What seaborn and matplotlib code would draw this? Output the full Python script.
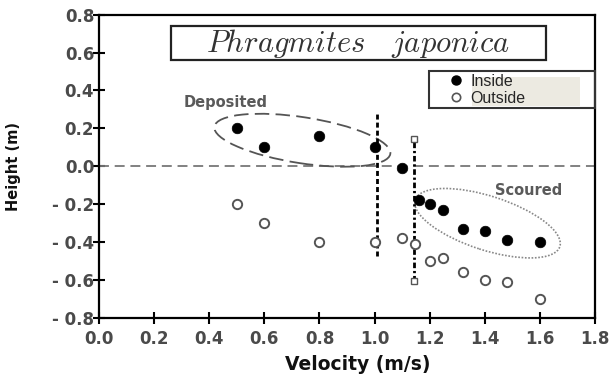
import numpy as np
import pandas as pd
import matplotlib
matplotlib.use("Agg")
import matplotlib.pyplot as plt
import seaborn as sns
from matplotlib.patches import Ellipse, Rectangle
from matplotlib.lines import Line2D
from matplotlib.legend_handler import HandlerLine2D
from matplotlib.transforms import IdentityTransform, ScaledTranslation

# ---- data ----
velocity = [0.50, 0.60, 0.80, 1.00, 1.10, 1.16, 1.20, 1.25, 1.32, 1.40, 1.48, 1.60]
inside_height = [0.20, 0.10, 0.16, 0.10, -0.01, -0.18, -0.20, -0.23, -0.33, -0.34, -0.39, -0.40]
outside_velocity = [0.50, 0.60, 0.80, 1.00, 1.10, 1.145, 1.20, 1.25, 1.32, 1.40, 1.48, 1.60]
outside_height = [-0.20, -0.30, -0.40, -0.40, -0.38, -0.41, -0.50, -0.485, -0.56, -0.60, -0.61, -0.70]

x_ticks = [0.0, 0.2, 0.4, 0.6, 0.8, 1.0, 1.2, 1.4, 1.6, 1.8]
x_tick_labels = ["0.0", "0.2", "0.4", "0.6", "0.8", "1.0", "1.2", "1.4", "1.6", "1.8"]
y_ticks = [-0.8, -0.6, -0.4, -0.2, 0.0, 0.2, 0.4, 0.6, 0.8]
y_tick_labels = ["- 0.8", "- 0.6", "- 0.4", "- 0.2", "0.0", "0.2", "0.4", "0.6", "0.8"]

# threshold lines (velocity, low, high)
threshold1 = (1.01, -0.474, 0.274)
threshold2 = (1.144, -0.604, 0.145)

title_text = r"$Phragmites\quad japonica$"
series_labels = ["Inside", "Outside"]

df_in = pd.DataFrame({"Velocity": velocity, "Height": inside_height})
df_out = pd.DataFrame({"Velocity": outside_velocity, "Height": outside_height})


class ShiftedMarkerHandler(HandlerLine2D):
    """Legend handler that nudges the marker towards the label."""

    def __init__(self, shift=0.0, **kw):
        super().__init__(**kw)
        self.shift = shift

    def create_artists(self, legend, orig_handle, xdescent, ydescent, width,
                       height, fontsize, trans):
        arts = super().create_artists(legend, orig_handle, xdescent, ydescent,
                                      width, height, fontsize, trans)
        for a in arts:
            a.set_xdata(np.asarray(a.get_xdata(), dtype=float) + self.shift)
        return arts


sns.set_style("ticks")
plt.rcParams["font.family"] = ["DejaVu Sans"]
plt.rcParams["mathtext.fontset"] = "cm"

fig = plt.figure(figsize=(6.11, 3.76), dpi=100)
ax = fig.add_axes([99 / 611, (376 - 317.7) / 376, 496 / 611, 303 / 376])

# zero reference line
ax.axhline(0, color="#777777", lw=1.3, ls=(0, (5.5, 3.2)), zorder=1)

# threshold lines
ax.plot([threshold1[0], threshold1[0]], [threshold1[1], threshold1[2]],
        color="black", lw=2.0, ls=(0, (1.8, 1.1)), zorder=2)
ax.plot([threshold2[0], threshold2[0]], [threshold2[1], threshold2[2]],
        color="black", lw=2.0, ls=(0, (2.0, 1.0, 0.8, 1.0)), zorder=2)
ax.plot([threshold2[0], threshold2[0]], [threshold2[1], threshold2[2]],
        ls="none", marker="s", ms=5, mfc="white", mec="#555555", mew=1.0, zorder=6)

sns.scatterplot(data=df_out, x="Velocity", y="Height", ax=ax, s=45,
                facecolor="white", edgecolor="#555555", linewidth=1.4, zorder=3)
sns.scatterplot(data=df_in, x="Velocity", y="Height", ax=ax, s=58,
                color="black", edgecolor="black", linewidth=0.5, zorder=4)

# ellipses (pixel sized, centred in data coords)
e1 = Ellipse((0, 0), 178, 46, angle=-8.8, fill=False, ec="#555555", lw=1.3,
             ls=(0, (8, 3.5)),
             transform=IdentityTransform() + ScaledTranslation(0.738, 0.137, ax.transData))
ax.add_patch(e1)
e2 = Ellipse((0, 0), 152, 54, angle=-17.9, fill=False, ec="#888888", lw=1.2,
             ls=(0, (1, 1)),
             transform=IdentityTransform() + ScaledTranslation(1.41, -0.301, ax.transData))
ax.add_patch(e2)

ax.text(0.461, 0.334, "Deposited", ha="center", va="center", fontsize=10.5,
        fontweight="bold", color="#5a5a5a")
ax.text(1.558, -0.126, "Scoured", ha="center", va="center", fontsize=10.5,
        fontweight="bold", color="#5a5a5a")

# title box
ax.add_patch(Rectangle((0.145, 0.8505), 0.756, 0.112, transform=ax.transAxes,
                       fill=False, ec="#222222", lw=1.6, zorder=5))
ax.text(0.522, 0.905, title_text, transform=ax.transAxes, ha="center", va="center",
        fontsize=22, color="#333333")

# legend with beige strip behind labels
ax.add_patch(Rectangle(((471.7 - 99) / 496, (317.7 - 105.7) / 303),
                       (580 - 471.7) / 496, (105.7 - 76.7) / 303,
                       transform=ax.transAxes, fc="#ECEAE1", ec="none", zorder=4))
handles = [
    Line2D([], [], ls="none", marker="o", ms=6.5, mfc="black", mec="black"),
    Line2D([], [], ls="none", marker="o", ms=6, mfc="white", mec="#555555", mew=1.2),
]
hmap = {h: ShiftedMarkerHandler(shift=6.0) for h in handles}
leg = ax.legend(handles, series_labels, loc="upper left", handler_map=hmap,
                bbox_to_anchor=((429 - 99) / 496, (317.7 - 71.7) / 303, 1 - (429 - 99) / 496, 0.001),
                mode="expand", frameon=True, fancybox=False, framealpha=1,
                handlelength=2.0, handletextpad=0.45, borderpad=0.15, labelspacing=0.12,
                borderaxespad=0, prop={"family": "Liberation Sans", "size": 11.5})
leg.get_frame().set_facecolor("none")
leg.get_frame().set_edgecolor("#333333")
leg.get_frame().set_linewidth(1.5)
leg.set_zorder(6)

ax.set_xlim(0, 1.8)
ax.set_ylim(-0.8, 0.8)
ax.set_xticks(x_ticks)
ax.set_xticklabels(x_tick_labels)
ax.set_yticks(y_ticks)
ax.set_yticklabels(y_tick_labels)
ax.tick_params(direction="inout", length=9, width=1.5, color="black",
               labelsize=12, labelcolor="#4a4a4a")
ax.tick_params(axis="y", pad=-1)
ax.tick_params(axis="x", pad=4)
for lab in ax.get_xticklabels() + ax.get_yticklabels():
    lab.set_fontweight("bold")

for sp in ax.spines.values():
    sp.set_visible(True)
    sp.set_color("black")
    sp.set_linewidth(1.6)

ax.set_xlabel("Velocity (m/s)", fontsize=13.5, fontweight="bold", color="#111111")
ax.set_ylabel("Height (m)", fontsize=10.5, fontweight="bold", color="#111111")
ax.xaxis.set_label_coords(0.522, -0.122)
ax.yaxis.set_label_coords(-0.157, 0.5)

fig.savefig("out.png", dpi=100)
